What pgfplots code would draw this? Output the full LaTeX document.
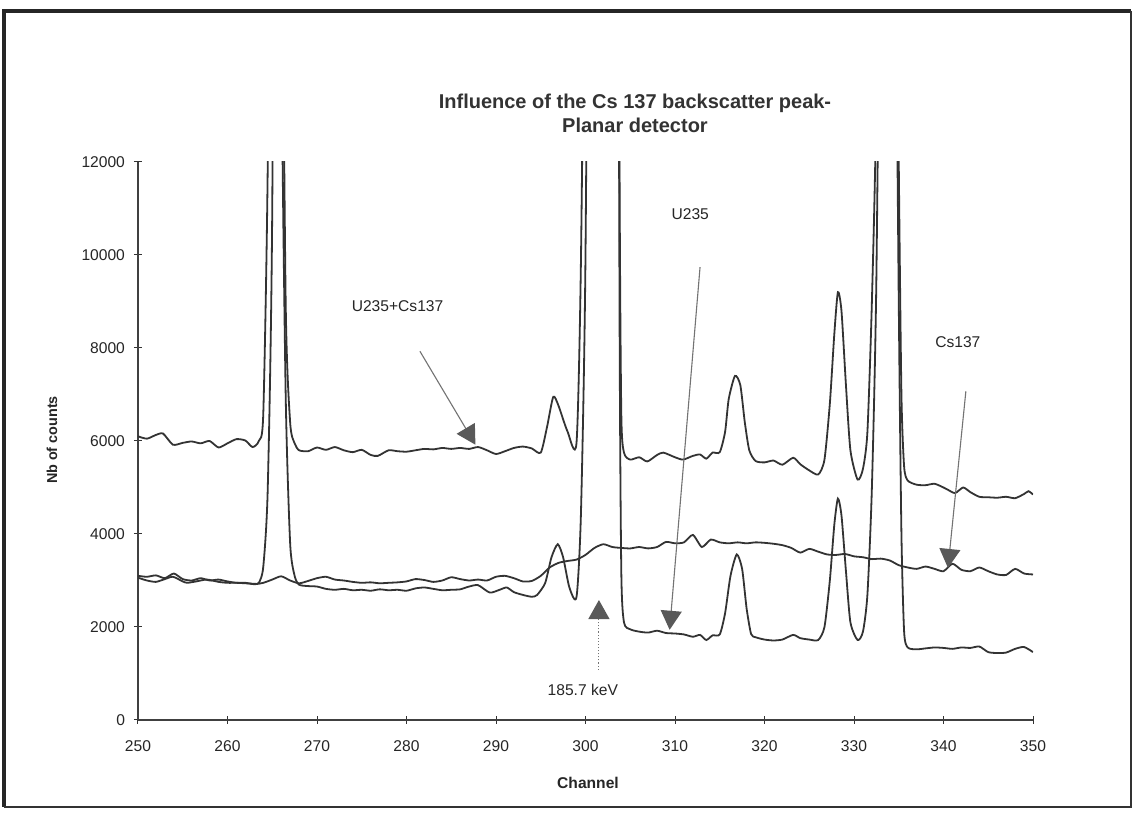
\documentclass[border=0pt]{standalone}
\usepackage{fontspec}
\setmainfont{Liberation Sans}
\usepackage{pgfplots}
\pgfplotsset{compat=1.18}
\usetikzlibrary{arrows.meta}

\definecolor{trace}{gray}{0.2}
\definecolor{pointer}{gray}{0.45}
\definecolor{pointerhead}{gray}{0.35}

\pgfplotsset{spectrum/.style={trace, line width=0.9pt, smooth, tension=0.4, mark=none}}

\begin{document}
\begin{tikzpicture}
\useasboundingbox (-69pt,-46.5pt) rectangle (499pt,360pt);
% page frame
\fill[white] (-69pt,-46.5pt) rectangle (499pt,360pt);
\draw[line width=1.8pt, black!85] (-67pt,-43.5pt) -- (-67pt,354.5pt) -- (496.5pt,354.5pt);
\draw[line width=1.1pt, black!80] (496.5pt,354.5pt) -- (496.5pt,-43.5pt) -- (-67pt,-43.5pt);

\begin{axis}[
  at={(0pt,0pt)}, anchor=south west,
  scale only axis, width=447.5pt, height=279pt,
  xmin=250, xmax=350, ymin=0, ymax=12000,
  axis x line*=bottom, axis y line*=left,
  axis line style={-, black!75, line width=0.6pt},
  xtick={250,260,...,350}, ytick={0,2000,...,12000},
  scaled y ticks=false,
  tick align=center, major tick length=4pt,
  tick style={black!80, line width=0.5pt},
  ticklabel style={font=\fontsize{7.8}{9}\selectfont, text=black!85},
  /pgf/number format/assume math mode=true,
  /pgf/number format/1000 sep={},
  xticklabel style={yshift=-5pt},
  yticklabel style={xshift=-1pt},
  clip=true,
]

% U235 + Cs137
\addplot[spectrum] coordinates {
(250,6100) (251,6050) (252,6130) (252.8,6160) (253.9,5920) (255,5960) (256,5990)
(257,5950) (258,6000) (259,5860) (260,5950) (261,6040) (262,6010) (262.8,5870)
(263.5,6000) (264,6600) (264.5,12000) (265,25000) (265.5,35000) (266,20000)
(266.5,9000) (267,6400) (267.5,5950) (268,5800) (269,5780) (270,5860) (271,5810)
(272,5870) (273,5800) (274,5760) (275,5810) (276,5700) (276.8,5680) (278,5800)
(279,5780) (280,5770) (281,5800) (282,5830) (283,5820) (284,5850) (285,5830)
(286,5850) (287,5830) (288,5870) (289,5800) (290,5720) (291,5780) (292,5850)
(293,5880) (294,5840) (295,5750) (295.7,6300) (296.4,6950) (297,6750) (298,6200)
(299,5970) (299.5,10000) (300,20000) (300.5,40000) (301,50000) (302,50000)
(303,40000) (303.5,30000) (303.8,12000) (304,6600) (304.3,5750) (305,5600)
(306,5650) (306.9,5560) (308,5700) (308.7,5750) (310,5650) (310.9,5600)
(312,5680) (312.8,5710) (313.5,5620) (314.2,5750) (315,5760) (315.6,6200)
(316,6900) (316.7,7400) (317.3,7200) (317.8,6400) (318.3,5800) (319,5570)
(320,5540) (321,5580) (322,5490) (323.2,5640) (324,5500) (324.9,5380) (326,5280)
(326.7,5600) (327.3,6800) (327.8,8300) (328.2,9200) (328.6,8800) (329.1,7200)
(329.6,5800) (330.4,5170) (331,5400) (331.5,6200) (332,9000) (332.5,13500)
(333,25000) (333.5,45000) (334,35000) (334.5,22000) (335,12000) (335.3,7000)
(335.6,5450) (336,5150) (337,5060) (338,5050) (339,5080) (340,5000) (340.5,4950)
(341.3,4880) (342.2,5000) (343,4900) (344,4800) (345,4790) (346,4780) (347,4800)
(348,4770) (349,4860) (349.5,4920) (350,4850)
};

% U235
\addplot[spectrum] coordinates {
(250,3060) (251,3000) (252,2970) (253,3030) (253.9,3080) (255,2980) (255.5,2950)
(256.5,2980) (257.7,3020) (259,2970) (260,2950) (261,2950) (262,2940) (263,2930)
(263.5,2950) (264,3300) (264.5,5000) (265,11000) (265.5,30000) (266,15000)
(266.5,7000) (267,3800) (267.5,3100) (268,2910) (269,2880) (270,2870) (271,2820)
(272,2800) (273,2820) (274,2790) (275,2800) (276,2780) (277,2810) (278,2790)
(279,2800) (280,2780) (281,2830) (282,2850) (283,2820) (284,2790) (285,2800)
(286,2810) (287,2870) (288,2900) (289.3,2740) (290.4,2800) (291.2,2850)
(292,2750) (293,2690) (294,2650) (294.6,2690) (295.5,2950) (296.2,3500)
(296.9,3780) (297.5,3500) (298.2,2850) (299,2650) (299.5,4500) (300,10000)
(300.5,25000) (301,50000) (302,50000) (303,50000) (303.5,30000) (303.8,9000)
(304,3200) (304.3,2100) (305,1950) (306,1900) (307,1880) (308,1920) (309,1870)
(310,1860) (311,1840) (312,1790) (312.8,1830) (313.5,1720) (314.2,1820)
(315,1840) (315.6,2300) (316.2,3100) (316.9,3560) (317.5,3250) (318,2400)
(318.5,1850) (319,1780) (320,1730) (321,1710) (322,1730) (323.2,1830) (324,1760)
(325,1730) (326,1720) (326.7,2000) (327.3,3000) (327.8,4200) (328.2,4760)
(328.6,4400) (329.1,3200) (329.6,2100) (330.4,1720) (331,1900) (331.5,2700)
(332,5000) (332.5,9500) (333,20000) (333.5,40000) (334,30000) (334.5,20000)
(335,9000) (335.3,4000) (335.6,1900) (336,1560) (337,1520) (338,1540) (339,1560)
(340,1550) (341,1530) (342,1560) (343,1550) (344,1580) (345,1460) (346,1440)
(347,1450) (348,1530) (349,1570) (350,1460)
};

% Cs137
\addplot[spectrum] coordinates {
(250,3100) (251,3080) (252,3110) (253,3050) (254,3150) (255,3030) (256,3000)
(257,3050) (258,3000) (259,3020) (260,2980) (261,2950) (262,2950) (263,2920)
(264,2950) (265,3020) (266,3090) (267,3000) (268,2940) (269,2990) (270,3050)
(271,3080) (272,3020) (273,3000) (274,2970) (275,2950) (276,2960) (277,2940)
(278,2950) (279,2960) (280,2980) (281,3030) (282,3010) (283,2970) (284,3000)
(285,3070) (286,3030) (287,3000) (288,3020) (289,3000) (290,3080) (291,3100)
(292,3050) (293,2980) (294,2990) (295,3100) (296,3280) (297,3380) (298,3420)
(299,3450) (300,3550) (301,3700) (302,3780) (303,3720) (304,3700) (305,3690)
(306,3720) (307,3690) (308,3720) (309,3830) (310,3800) (311,3820) (312,3980)
(313,3720) (314,3880) (315,3820) (316,3800) (317,3820) (318,3800) (319,3820)
(320,3810) (321,3790) (322,3760) (323,3700) (324,3600) (325,3680) (326,3620)
(327,3560) (328,3550) (329,3570) (330,3520) (331,3500) (332,3460) (333,3470)
(334,3430) (335,3330) (336,3280) (337,3250) (338,3300) (339,3250) (340,3200)
(341,3360) (342,3230) (343,3200) (344,3280) (345,3200) (346,3130) (347,3120)
(348,3250) (349,3150) (350,3130)
};

% annotations
\begin{scope}[font=\fontsize{7.8}{9}\selectfont, text=black!85]
\node at (axis cs:279,8900) {U235+Cs137};
\node at (axis cs:311.7,10880) {U235};
\node at (axis cs:341.6,8120) {Cs137};
\node at (axis cs:299.7,650) {185.7 keV};
\end{scope}
\begin{scope}[pointer, line width=0.55pt,
  >={Triangle[width=10.5pt,length=9.5pt,fill=pointerhead,color=pointerhead]}]
\draw[->] (axis cs:281.5,7930) -- (axis cs:287.7,5920);
\draw[->] (axis cs:312.8,9740) -- (axis cs:309.4,1940);
\draw[->] (axis cs:342.5,7070) -- (axis cs:340.5,3270);
\draw[->, densely dotted] (axis cs:301.5,1080) -- (axis cs:301.5,2580);
\end{scope}
\end{axis}

% titles and axis labels
\node[font=\bfseries\fontsize{10}{12}\selectfont, align=center, text=black!80]
  at (248.5pt,303.5pt) {Influence of the Cs 137 backscatter peak-\\Planar detector};
\node[font=\bfseries\fontsize{7.8}{9}\selectfont, text=black!85] at (225pt,-31.5pt) {Channel};
\node[font=\bfseries\fontsize{7.2}{9}\selectfont, text=black!85, rotate=90] at (-43pt,140pt) {Nb of counts};
\end{tikzpicture}
\end{document}
